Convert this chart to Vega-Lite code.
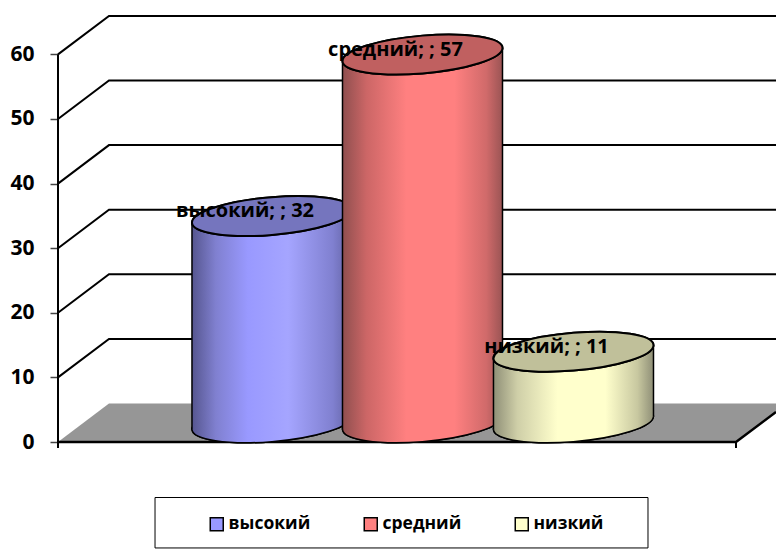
{
"$schema":"https://vega.github.io/schema/vega-lite/v6.json",
"width":776,"height":549,"padding":0,"autosize":{"type":"none"},
"background":"white",
"config":{"view":{"stroke":null},"font":"Open Sans"},
"datasets":{
"cyl":[
{"series":"высокий","value":32,"pos":31.56,"label":"высокий; ; 32"},
{"series":"средний","value":57,"pos":53.76,"label":"средний; ; 57"},
{"series":"низкий","value":11,"pos":76.03,"label":"низкий; ; 11"}],
"floor":[
{"x":0,"y":0,"y2":0},{"x":7.52,"y":5.96,"y2":0},{"x":100,"y":5.96,"y2":0},{"x":105.9,"y":5.96,"y2":4.64}],
"grid":[
{"level":10,"x":0,"y":10},{"level":10,"x":7.52,"y":15.96},{"level":10,"x":105.9,"y":15.96},
{"level":20,"x":0,"y":20},{"level":20,"x":7.52,"y":25.96},{"level":20,"x":105.9,"y":25.96},
{"level":30,"x":0,"y":30},{"level":30,"x":7.52,"y":35.96},{"level":30,"x":105.9,"y":35.96},
{"level":40,"x":0,"y":40},{"level":40,"x":7.52,"y":45.96},{"level":40,"x":105.9,"y":45.96},
{"level":50,"x":0,"y":50},{"level":50,"x":7.52,"y":55.96},{"level":50,"x":105.9,"y":55.96},
{"level":60,"x":0,"y":60},{"level":60,"x":7.52,"y":65.96},{"level":60,"x":105.9,"y":65.96}],
"edge":[{"x":0,"y":0},{"x":100,"y":0},{"x":105.9,"y":4.64}],
"rules":[{"x":0,"y":60,"y2":-0.93},{"x":100,"y":0,"y2":-0.93}],
"box":[{"x":14.31,"x2":87.02,"y":-8.59,"y2":-16.4}]
},
"data":{"name":"cyl"},
"layer":[
{"data":{"name":"box"},"mark":{"type":"rect","fill":"white","stroke":"black","strokeWidth":1},
 "encoding":{"x":{"field":"x","type":"quantitative","axis":null,"scale":{"domain":[-8.555,105.9],"nice":false,"zero":false}},"x2":{"field":"x2"},
 "y":{"field":"y","type":"quantitative","title":null,"scale":{"domain":[-16.56,68.42],"nice":false,"zero":false},
  "axis":{"values":[0,10,20,30,40,50,60],"offset":-58,"domain":false,"grid":false,"tickSize":8,"tickWidth":1.5,"tickColor":"#444","labelPadding":16,"labelFont":"Open Sans","labelFontWeight":700,"labelFontSize":21,"labelColor":"black","title":null}},"y2":{"field":"y2"}}},
{"data":{"name":"floor"},"mark":{"type":"area","fill":"#969696","stroke":null},
 "encoding":{"x":{"field":"x","type":"quantitative"},"y":{"field":"y","type":"quantitative"},"y2":{"field":"y2"}}},
{"data":{"name":"grid"},"mark":{"type":"line","stroke":"black","strokeWidth":2},
 "encoding":{"x":{"field":"x","type":"quantitative"},"y":{"field":"y","type":"quantitative"},"detail":{"field":"level"}}},
{"data":{"name":"edge"},"mark":{"type":"line","stroke":"black","strokeWidth":2.5},
 "encoding":{"x":{"field":"x","type":"quantitative"},"y":{"field":"y","type":"quantitative"}}},
{"data":{"name":"rules"},"mark":{"type":"rule","stroke":"black","strokeWidth":2},
 "encoding":{"x":{"field":"x","type":"quantitative"},"y":{"field":"y","type":"quantitative"},"y2":{"field":"y2"}}},
{"transform":[{"calculate":"datum.value/2","as":"mid"}],
 "mark":{"type":"point","shape":"square","filled":true,"size":16,"opacity":1},
 "encoding":{"x":{"field":"pos","type":"quantitative"},"y":{"field":"mid","type":"quantitative"},
  "color":{"field":"series","type":"nominal","scale":{"domain":["высокий","средний","низкий"],"range":["#9999FF","#FF8080","#FFFFCC"]},
  "legend":{"orient":"none","legendX":208,"legendY":515,"title":null,"direction":"horizontal","columns":3,"gridAlign":"each","columnPadding":50,"symbolType":"square","symbolSize":169,"symbolStrokeColor":"black","symbolStrokeWidth":1.5,"labelFont":"Open Sans","labelFontWeight":700,"labelFontSize":17.5,"labelColor":"black","labelOffset":3,"padding":0}}}},
{"transform":[{"filter":"datum.series==='высокий'"},{"calculate":"[-1,1]","as":"side"},{"flatten":["side"]},{"calculate":"datum.pos+datum.side*11.8","as":"xe"},{"calculate":"datum.value+2.98+datum.side*1.006","as":"yt"},{"calculate":"2.98+datum.side*1.006","as":"yb"},{"calculate":"2.98","as":"base"},{"calculate":"datum.value+2.98","as":"top"}],
 "layer":[
 {"mark":{"type":"point","filled":true,"size":25600,"opacity":1,"stroke":"black","strokeWidth":1.5,"shape":"M1,-0.08125C1,0.04923,0.5523,0.19138,0,0.23625C-0.5523,0.28112,-1,0.21173,-1,0.08125C-1,-0.04923,-0.5523,-0.19138,0,-0.23625C0.5523,-0.28112,1,-0.21173,1,-0.08125Z","fill":{"x1":0,"y1":0,"x2":1,"y2":0,"gradient":"linear","stops":[{"offset":0,"color":"#56568F"},{"offset":0.15,"color":"#8080D0"},{"offset":0.35,"color":"#9999FF"},{"offset":0.6,"color":"#A5A5FF"},{"offset":0.88,"color":"#8080D0"},{"offset":1,"color":"#6060A0"}]}},
  "encoding":{"x":{"field":"pos","type":"quantitative"},"y":{"field":"base","type":"quantitative"}}},
 {"mark":{"type":"area","stroke":null,"fill":{"x1":0,"y1":0,"x2":1,"y2":0,"gradient":"linear","stops":[{"offset":0,"color":"#56568F"},{"offset":0.15,"color":"#8080D0"},{"offset":0.35,"color":"#9999FF"},{"offset":0.6,"color":"#A5A5FF"},{"offset":0.88,"color":"#8080D0"},{"offset":1,"color":"#6060A0"}]}},
  "encoding":{"x":{"field":"xe","type":"quantitative"},"y":{"field":"yt","type":"quantitative"},"y2":{"field":"yb"}}},
 {"mark":{"type":"rule","stroke":"black","strokeWidth":1.5},
  "encoding":{"x":{"field":"xe","type":"quantitative"},"y":{"field":"yt","type":"quantitative"},"y2":{"field":"yb"}}},
 {"mark":{"type":"point","filled":true,"size":25600,"opacity":1,"fill":"#7575BE","stroke":"black","strokeWidth":2,"shape":"M1,-0.08125C1,0.04923,0.5523,0.19138,0,0.23625C-0.5523,0.28112,-1,0.21173,-1,0.08125C-1,-0.04923,-0.5523,-0.19138,0,-0.23625C0.5523,-0.28112,1,-0.21173,1,-0.08125Z"},
  "encoding":{"x":{"field":"pos","type":"quantitative"},"y":{"field":"top","type":"quantitative"}}}
 ]},
{"transform":[{"filter":"datum.series==='средний'"},{"calculate":"[-1,1]","as":"side"},{"flatten":["side"]},{"calculate":"datum.pos+datum.side*11.8","as":"xe"},{"calculate":"datum.value+2.98+datum.side*1.006","as":"yt"},{"calculate":"2.98+datum.side*1.006","as":"yb"},{"calculate":"2.98","as":"base"},{"calculate":"datum.value+2.98","as":"top"}],
 "layer":[
 {"mark":{"type":"point","filled":true,"size":25600,"opacity":1,"stroke":"black","strokeWidth":1.5,"shape":"M1,-0.08125C1,0.04923,0.5523,0.19138,0,0.23625C-0.5523,0.28112,-1,0.21173,-1,0.08125C-1,-0.04923,-0.5523,-0.19138,0,-0.23625C0.5523,-0.28112,1,-0.21173,1,-0.08125Z","fill":{"x1":0,"y1":0,"x2":1,"y2":0,"gradient":"linear","stops":[{"offset":0,"color":"#8F4F4F"},{"offset":0.15,"color":"#CC6666"},{"offset":0.4,"color":"#FF8080"},{"offset":0.7,"color":"#FF8080"},{"offset":0.9,"color":"#D06A6A"},{"offset":1,"color":"#9A5454"}]}},
  "encoding":{"x":{"field":"pos","type":"quantitative"},"y":{"field":"base","type":"quantitative"}}},
 {"mark":{"type":"area","stroke":null,"fill":{"x1":0,"y1":0,"x2":1,"y2":0,"gradient":"linear","stops":[{"offset":0,"color":"#8F4F4F"},{"offset":0.15,"color":"#CC6666"},{"offset":0.4,"color":"#FF8080"},{"offset":0.7,"color":"#FF8080"},{"offset":0.9,"color":"#D06A6A"},{"offset":1,"color":"#9A5454"}]}},
  "encoding":{"x":{"field":"xe","type":"quantitative"},"y":{"field":"yt","type":"quantitative"},"y2":{"field":"yb"}}},
 {"mark":{"type":"rule","stroke":"black","strokeWidth":1.5},
  "encoding":{"x":{"field":"xe","type":"quantitative"},"y":{"field":"yt","type":"quantitative"},"y2":{"field":"yb"}}},
 {"mark":{"type":"point","filled":true,"size":25600,"opacity":1,"fill":"#C06060","stroke":"black","strokeWidth":2,"shape":"M1,-0.08125C1,0.04923,0.5523,0.19138,0,0.23625C-0.5523,0.28112,-1,0.21173,-1,0.08125C-1,-0.04923,-0.5523,-0.19138,0,-0.23625C0.5523,-0.28112,1,-0.21173,1,-0.08125Z"},
  "encoding":{"x":{"field":"pos","type":"quantitative"},"y":{"field":"top","type":"quantitative"}}}
 ]},
{"transform":[{"filter":"datum.series==='низкий'"},{"calculate":"[-1,1]","as":"side"},{"flatten":["side"]},{"calculate":"datum.pos+datum.side*11.8","as":"xe"},{"calculate":"datum.value+2.98+datum.side*1.006","as":"yt"},{"calculate":"2.98+datum.side*1.006","as":"yb"},{"calculate":"2.98","as":"base"},{"calculate":"datum.value+2.98","as":"top"}],
 "layer":[
 {"mark":{"type":"point","filled":true,"size":25600,"opacity":1,"stroke":"black","strokeWidth":1.5,"shape":"M1,-0.08125C1,0.04923,0.5523,0.19138,0,0.23625C-0.5523,0.28112,-1,0.21173,-1,0.08125C-1,-0.04923,-0.5523,-0.19138,0,-0.23625C0.5523,-0.28112,1,-0.21173,1,-0.08125Z","fill":{"x1":0,"y1":0,"x2":1,"y2":0,"gradient":"linear","stops":[{"offset":0,"color":"#8F8F77"},{"offset":0.15,"color":"#CFCFA8"},{"offset":0.4,"color":"#FFFFCC"},{"offset":0.7,"color":"#FFFFCC"},{"offset":0.9,"color":"#C8C8A0"},{"offset":1,"color":"#8F8F77"}]}},
  "encoding":{"x":{"field":"pos","type":"quantitative"},"y":{"field":"base","type":"quantitative"}}},
 {"mark":{"type":"area","stroke":null,"fill":{"x1":0,"y1":0,"x2":1,"y2":0,"gradient":"linear","stops":[{"offset":0,"color":"#8F8F77"},{"offset":0.15,"color":"#CFCFA8"},{"offset":0.4,"color":"#FFFFCC"},{"offset":0.7,"color":"#FFFFCC"},{"offset":0.9,"color":"#C8C8A0"},{"offset":1,"color":"#8F8F77"}]}},
  "encoding":{"x":{"field":"xe","type":"quantitative"},"y":{"field":"yt","type":"quantitative"},"y2":{"field":"yb"}}},
 {"mark":{"type":"rule","stroke":"black","strokeWidth":1.5},
  "encoding":{"x":{"field":"xe","type":"quantitative"},"y":{"field":"yt","type":"quantitative"},"y2":{"field":"yb"}}},
 {"mark":{"type":"point","filled":true,"size":25600,"opacity":1,"fill":"#C0C09A","stroke":"black","strokeWidth":2,"shape":"M1,-0.08125C1,0.04923,0.5523,0.19138,0,0.23625C-0.5523,0.28112,-1,0.21173,-1,0.08125C-1,-0.04923,-0.5523,-0.19138,0,-0.23625C0.5523,-0.28112,1,-0.21173,1,-0.08125Z"},
  "encoding":{"x":{"field":"pos","type":"quantitative"},"y":{"field":"top","type":"quantitative"}}}
 ]},
{"transform":[{"calculate":"datum.value+2.98","as":"top"}],
 "mark":{"type":"text","font":"Open Sans","fontWeight":700,"fontSize":20,"color":"black","align":"center","baseline":"middle","dx":-27,"dy":-5},
 "encoding":{"x":{"field":"pos","type":"quantitative"},"y":{"field":"top","type":"quantitative"},"text":{"field":"label"}}}
]
}
